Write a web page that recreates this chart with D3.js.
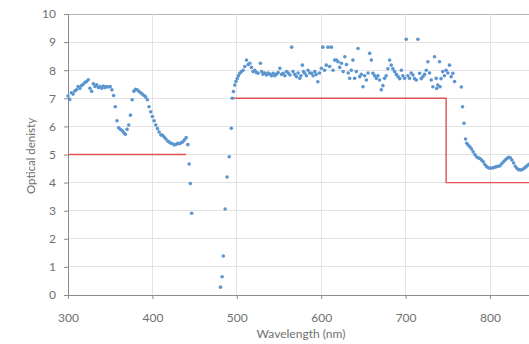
<!DOCTYPE html>
<html>
<head>
<meta charset="utf-8">
<script src="https://cdn.jsdelivr.net/npm/d3@7"></script>
<style>
  html, body { margin: 0; padding: 0; background: #fff; }
  svg { display: block; }
</style>
</head>
<body>
<svg id="chart" width="529" height="344"></svg>
<script>
// ---- data ----
const wavelength = [
  300,302,304,306,308,310,312,314,316,318,320,322,324,326,328,330,332,334,336,338,340,342,344,346,348,350,
  352,354,356,358,360,362,364,366,368,370,372,374,376,378,380,382,384,386,388,390,392,394,396,398,400,
  402,404,406,408,410,412,414,416,418,420,422,424,426,428,430,432,434,436,438,440,442,443.5,445,446.5,
  480.7,482.6,484,486.2,488.5,491,493.5,494.5,496,497.6,499,500.5,502,503.6,505.5,507.5,509.5,511.5,513.5,
  515.4,517.4,519.3,521.3,523.2,525.2,528,529.5,531,533,535,537,539,541,543,545,547,549,551,553,555,557,
  559,561,563,565,566.6,568.6,570.6,572.6,574.6,576,577.7,579,580.5,582.5,584.4,586.4,588.4,590.4,592.3,
  594,596,598,600.2,602,604,606,608,610,612,614,616,618,620,622,624,626,628,630,632,633.7,635.7,637.6,
  639.6,641.6,643.6,645.6,647.5,649.5,651.5,653.5,655.5,657.4,659.4,661.3,663.3,665.3,667.2,669.2,671.2,
  673.1,675.1,677,679,681.1,683,685,687,689,691,693,695,696.8,698.8,700.8,702.7,704.7,706.6,708.6,710.6,
  712.7,714.6,716.6,718.5,720.5,722.5,724.5,726.4,728.4,730.4,732.3,734.3,736.3,736.8,738.2,740.2,740.8,
  742,744,746,748,750,752,754,756,758,766,767.5,769.2,771,772.5,774,776,778,780,782,784,786,788,790,792,
  794,796,798,800,802,804,806,808,810,812,814,816,818,820,822,824,826,828,830,832,834,836,838,840,842,844,846
];
const opticalDensity = [
  7.08,6.96,7.2,7.15,7.26,7.3,7.42,7.35,7.45,7.5,7.56,7.6,7.66,7.36,7.25,7.52,7.42,7.48,7.38,7.42,7.36,7.44,7.38,7.42,7.4,7.42,
  7.3,7.1,6.7,6.2,5.95,5.9,5.85,5.78,5.72,5.9,6.05,6.4,6.95,7.25,7.32,7.3,7.25,7.2,7.15,7.1,7.05,6.95,6.7,6.52,6.35,
  6.2,6.05,5.92,5.8,5.7,5.68,5.62,5.55,5.48,5.44,5.4,5.38,5.34,5.36,5.4,5.38,5.42,5.45,5.52,5.6,5.35,4.66,3.97,2.91,
  0.28,0.65,1.39,3.06,4.2,4.92,5.93,7.0,7.24,7.47,7.6,7.7,7.8,7.89,7.95,8.0,8.13,8.36,8.2,
  8.25,8.1,7.95,8.0,7.92,7.89,8.25,7.95,7.86,7.9,7.83,7.9,7.86,7.8,7.89,7.8,7.86,7.92,8.07,7.85,7.89,7.8,
  7.95,7.9,7.83,8.82,7.95,7.85,7.77,7.9,7.71,7.8,8.18,7.95,7.89,7.8,8.0,7.9,7.89,7.8,7.95,
  7.85,7.59,7.9,8.07,8.82,8.0,8.18,8.82,8.13,8.82,8.0,8.36,8.36,8.3,8.1,8.25,7.95,8.48,8.2,7.9,7.71,8.0,8.36,
  7.71,7.95,8.77,7.77,7.85,7.41,7.8,7.65,7.9,8.6,8.36,7.89,7.8,7.71,7.8,7.65,7.3,
  7.45,7.71,7.8,8.05,8.36,8.18,8.05,7.95,7.85,7.77,7.7,8.0,7.8,7.71,9.1,7.8,7.71,7.9,7.83,7.7,
  7.65,9.1,7.89,7.7,7.77,7.85,8.0,8.3,7.9,7.65,7.41,8.48,7.71,7.35,7.47,8.3,7.41,
  7.7,7.95,7.8,8.0,7.9,8.18,7.77,7.89,7.6,7.4,6.7,6.11,5.55,5.4,5.34,5.28,5.2,5.1,5.0,4.92,4.88,4.86,4.8,4.74,
  4.64,4.57,4.53,4.51,4.52,4.53,4.55,4.57,4.58,4.6,4.68,4.74,4.8,4.86,4.9,4.88,4.8,4.7,4.58,4.5,4.46,4.45,4.46,4.5,4.55,4.6,4.65
];
// red threshold (step) line; null = gap
const thresholdX = [300, 440, 441, 493.5, 748, 748, 900];
const thresholdY = [5, 5, null, 7, 7, 4, 4];

const xTicks = [300, 400, 500, 600, 700, 800];
const yTicks = [0,1,2,3,4,5,6,7,8,9,10];
const xTitle = "Wavelength (nm)";
const yTitle = "Optical denisty";

// ---- layout ----
const svg = d3.select("#chart");
const x = d3.scaleLinear().domain([300, 900]).range([68, 574.4]);
const y = d3.scaleLinear().domain([0, 10]).range([295, 14]);
const font = "Lato, 'Open Sans', sans-serif";
const textColor = "#707070";

// gridlines
svg.append("g").selectAll("line.h").data(yTicks.filter(d => d > 0)).join("line")
  .attr("x1", x(300)).attr("x2", 529)
  .attr("y1", d => y(d)).attr("y2", d => y(d))
  .attr("stroke", d => d === 10 ? "#b5b5b5" : "#e3e3e3").attr("stroke-width", 1)
  .attr("shape-rendering", "crispEdges");
svg.append("g").selectAll("line.v").data(xTicks.filter(d => d > 300)).join("line")
  .attr("x1", d => x(d)).attr("x2", d => x(d))
  .attr("y1", y(0)).attr("y2", y(10))
  .attr("stroke", "#e3e3e3").attr("stroke-width", 1)
  .attr("shape-rendering", "crispEdges");

// axes
const yAxis = d3.axisLeft(y).tickValues(yTicks).tickSizeInner(4).tickSizeOuter(0).tickPadding(8);
const xAxis = d3.axisBottom(x).tickValues(xTicks).tickSizeInner(4).tickSizeOuter(0).tickPadding(14);

const gy = svg.append("g").attr("transform", `translate(${x(300)},0)`).call(yAxis);
const gx = svg.append("g").attr("transform", `translate(0,${y(0)})`).call(xAxis);
gx.select(".domain").attr("d", `M${x(300)},0.5H529`);
[gx, gy].forEach(g => {
  g.select(".domain").attr("stroke", "#8a8a8a");
  g.selectAll(".tick line").attr("stroke", "#8a8a8a");
  g.selectAll(".tick text").attr("fill", textColor).style("font-family", font).style("font-size", "12px");
});

// red threshold line
const pts = thresholdX.map((d, i) => [d, thresholdY[i]]);
svg.append("path")
  .attr("d", d3.line().defined(d => d[1] !== null).x(d => x(d[0])).y(d => y(d[1]))(pts))
  .attr("fill", "none").attr("stroke", "#e05252").attr("stroke-width", 1.4);

// scatter
svg.append("g").selectAll("circle").data(wavelength.map((d, i) => [d, opticalDensity[i]])).join("circle")
  .attr("cx", d => x(d[0])).attr("cy", d => y(d[1])).attr("r", 1.8)
  .attr("fill", "#5b95d0");

// titles
svg.append("text").attr("x", 301).attr("y", 338).attr("text-anchor", "middle")
  .attr("fill", textColor).style("font-family", font).style("font-size", "12px").text(xTitle);
svg.append("text").attr("transform", `translate(35,156) rotate(-90)`).attr("text-anchor", "middle")
  .attr("fill", textColor).style("font-family", font).style("font-size", "11.5px").text(yTitle);
</script>
</body>
</html>
